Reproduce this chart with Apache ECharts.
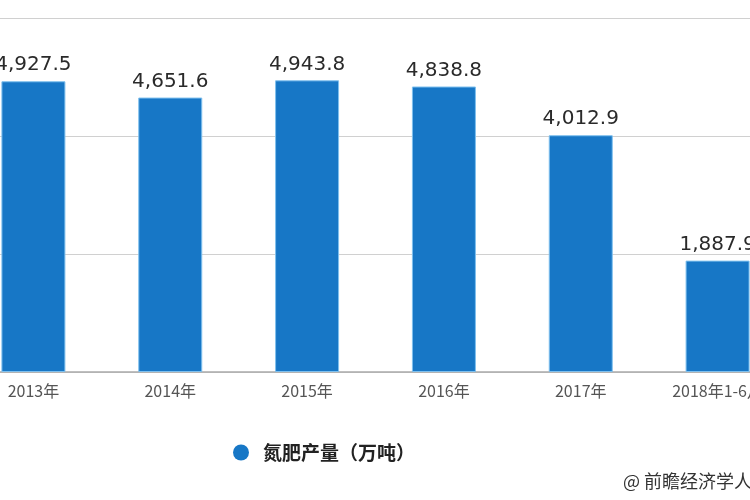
<!DOCTYPE html>
<html><head><meta charset="utf-8">
<script src="https://cdn.jsdelivr.net/npm/echarts@6/dist/echarts.min.js"></script>
<style>html,body{margin:0;padding:0;background:#fff}#c{width:750px;height:500px}</style>
</head><body><div id="c"></div>
<script>
const categories = ['2013年','2014年','2015年','2016年','2017年','2018年1-6月'];
const values = [4927.5, 4651.6, 4943.8, 4838.8, 4012.9, 1887.9];
const seriesName = '氮肥产量（万吨）';
const sourceText = '@ 前瞻经济学人';

const chart = echarts.init(document.getElementById('c'), null, {renderer:'canvas'});
chart.setOption({
  animation:false,
  backgroundColor:'#fff',
  grid:{left:-35, width:821, top:18, bottom:128, containLabel:false, outerBoundsMode:'none'},
  legend:{
    data:[seriesName], left:228, top:438, icon:'circle', itemWidth:16, itemHeight:16, itemGap:8,
    itemStyle:{borderWidth:0},
    textStyle:{fontSize:19, fontWeight:'bold', color:'#222', fontFamily:'Noto Sans CJK SC', padding:[0,0,0,9]}
  },
  xAxis:{
    type:'category', data:categories,
    axisLine:{lineStyle:{color:'#aaa', width:1.5}},
    axisTick:{alignWithLabel:true, length:5, lineStyle:{color:'#aaa'}},
    axisLabel:{color:'#555', fontSize:16, margin:11, fontFamily:'Noto Sans CJK SC', hideOverlap:false}
  },
  yAxis:{
    type:'value', min:0, max:6000, interval:2000,
    axisLabel:{show:false}, axisLine:{show:false}, axisTick:{show:false},
    splitLine:{lineStyle:{color:'#d0d0d0', width:1.2}}
  },
  series:[{
    name:seriesName, type:'bar', data:values, barWidth:64,
    itemStyle:{color:'#1777c6', borderColor:'#7fc0ee', borderWidth:1},
    label:{show:true, position:'top', distance:6, color:'#2a2a2a', fontSize:20, fontFamily:'DejaVu Sans',
      formatter:p=>p.value.toLocaleString('en-US',{minimumFractionDigits:1, maximumFractionDigits:1})}
  }],
  graphic:[{
    type:'text', left:623, top:472,
    style:{text:sourceText, fill:'#333', fontSize:18, fontFamily:'Noto Sans CJK SC'}
  }]
});
</script></body></html>
